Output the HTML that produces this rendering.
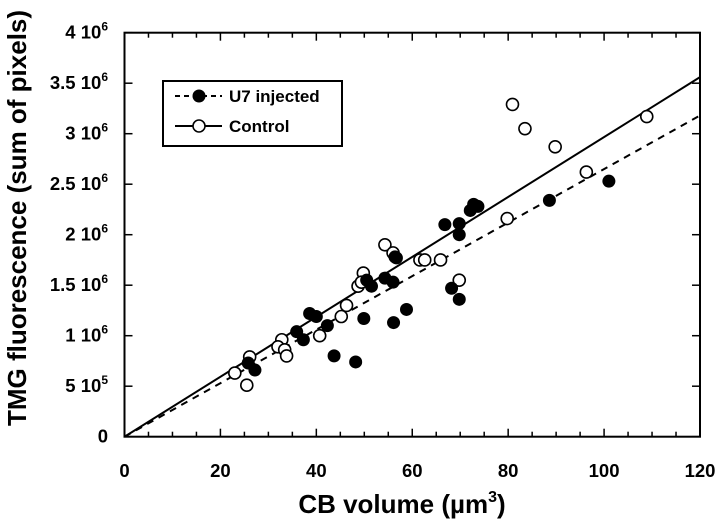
<!DOCTYPE html>
<html><head><meta charset="utf-8"><style>
body{margin:0;background:#fff;width:720px;height:524px;overflow:hidden}
svg{position:absolute;left:0;top:0}
svg text{font-family:"Liberation Sans",Arial,sans-serif;font-weight:bold;fill:#000}
</style></head><body>
<svg id="chart" width="720" height="524" viewBox="0 0 720 524"></svg>
<script>
const xTicks=[0,20,40,60,80,100,120];
const yTicks=[0,0.5,1,1.5,2,2.5,3,3.5,4];
const yTickLabels=[["0",""],["5 10","5"],["1 10","6"],["1.5 10","6"],["2 10","6"],["2.5 10","6"],["3 10","6"],["3.5 10","6"],["4 10","6"]];
const u7X=[27.2,25.8,38.6,40.0,35.9,37.3,42.3,43.7,48.2,49.9,56.1,58.8,68.2,69.8,50.5,51.5,54.3,56.0,56.4,56.7,101.0,88.6,72.8,73.7,72.1,66.8,69.8,69.8];
const u7Y=[0.66,0.73,1.22,1.19,1.04,0.96,1.10,0.80,0.74,1.17,1.13,1.26,1.47,1.36,1.55,1.49,1.57,1.53,1.78,1.77,2.53,2.34,2.30,2.28,2.24,2.10,2.11,2.00];
const ctlX=[25.5,23.0,26.1,32.8,32.0,33.4,33.8,40.7,45.2,46.3,48.7,49.8,49.4,61.6,62.6,65.9,69.8,54.3,56.0,80.9,83.5,89.8,108.9,96.3,79.8];
const ctlY=[0.51,0.63,0.79,0.96,0.89,0.86,0.80,1.00,1.19,1.30,1.49,1.62,1.53,1.75,1.75,1.75,1.55,1.90,1.82,3.29,3.05,2.87,3.17,2.62,2.16];
const fitCtl=[0,3.56];
const fitU7=[0,3.18];
const X0=124.5,X1=700,Y0=436.7,Y1=32.7;
const sx=v=>X0+(X1-X0)*v/120;
const sy=v=>Y0-(Y0-Y1)*v/4;
const NS="http://www.w3.org/2000/svg";
const svg=document.getElementById('chart');
function mk(t,a,p){const e=document.createElementNS(NS,t);for(const k in a)e.setAttribute(k,a[k]);(p||svg).appendChild(e);return e;}
let fr=mk('rect',{x:X0,y:Y1,width:X1-X0,height:Y0-Y1,fill:'none',stroke:'#000','stroke-width':2});


for(let v=0;v<=120;v+=5){const maj=v%20===0;const L=maj?8:5;
 let t=mk('line',{x1:sx(v),x2:sx(v),y1:Y0,y2:Y0-L,stroke:'#000','stroke-width':1.5});
 
 
 let t2=mk('line',{x1:sx(v),x2:sx(v),y1:Y1,y2:Y1+L,stroke:'#000','stroke-width':1.5});
 
 }
xTicks.forEach(v=>{let t=mk('text',{x:sx(v),y:477,'font-size':18.5,'text-anchor':'middle'});t.textContent=v;
 
 });
yTicks.forEach((v,i)=>{
 let t=mk('line',{x1:X0,x2:X0+8,y1:sy(v),y2:sy(v),stroke:'#000','stroke-width':1.5});
 
 
 let t2=mk('line',{x1:X1,x2:X1-8,y1:sy(v),y2:sy(v),stroke:'#000','stroke-width':1.5});
 
 
 let tx=mk('text',{x:108,y:sy(v)+6,'font-size':18.5,'text-anchor':'end'});
 
 
 const lab=yTickLabels[i];
 if(lab[1]===""){tx.textContent=lab[0];}else{
  const a=mk('tspan',{},tx);a.textContent=lab[0];
  const b=mk('tspan',{dy:-8,'font-size':12},tx);b.textContent=lab[1];}
});
let l1=mk('line',{x1:sx(0),y1:sy(fitCtl[0]),x2:sx(120),y2:sy(fitCtl[1]),stroke:'#000','stroke-width':2});


let l2=mk('line',{x1:sx(0),y1:sy(fitU7[0]),x2:sx(120),y2:sy(fitU7[1]),stroke:'#000','stroke-width':2,'stroke-dasharray':'7,6'});


ctlX.forEach((x,i)=>{let c=mk('circle',{cx:sx(x),cy:sy(ctlY[i]),r:6,fill:'#fff',stroke:'#000','stroke-width':1.6});
 
 });
u7X.forEach((x,i)=>{let c=mk('circle',{cx:sx(x),cy:sy(u7Y[i]),r:6.5,fill:'#000'});
 
 });
</script>
<svg width="720" height="524">
<g>
<rect x="163" y="81" width="179" height="65" fill="#fff" stroke="#000" stroke-width="2"/>
<line x1="175" y1="96" x2="222" y2="96" stroke="#000" stroke-width="2" stroke-dasharray="5,4"/>
<circle cx="199" cy="96" r="6.5" fill="#000"/>
<text x="229" y="102" font-size="17">U7 injected</text>
<line x1="175" y1="126" x2="222" y2="126" stroke="#000" stroke-width="2"/>
<circle cx="199" cy="126" r="6" fill="#fff" stroke="#000" stroke-width="1.6"/>
<text x="229" y="132" font-size="17">Control</text>
</g>
<text x="402" y="513" font-size="26" text-anchor="middle">CB volume (µm<tspan dy="-11" font-size="16">3</tspan><tspan dy="11">)</tspan></text>
<text transform="translate(26,218) rotate(-90)" font-size="26" text-anchor="middle">TMG fluorescence (sum of pixels)</text>
</svg>
</body></html>
